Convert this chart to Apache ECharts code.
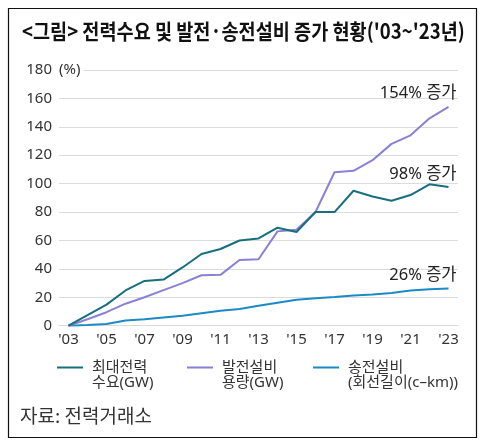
<!DOCTYPE html>
<html>
<head>
<meta charset="utf-8">
<script src="https://cdn.jsdelivr.net/npm/echarts@6/dist/echarts.min.js"></script>
<style>
html,body{margin:0;padding:0;background:#fff;}
#c{width:487px;height:445px;}
</style>
</head>
<body>
<div id="c"></div>
<script>
const years = ["'03","'04","'05","'06","'07","'08","'09","'10","'11","'12","'13","'14","'15","'16","'17","'18","'19","'20","'21","'22","'23"];
const peakDemand = [0, 7.5, 14.8, 24.8, 31.5, 32.5, 41, 50.5, 54, 60, 61.4, 69, 66, 80, 80, 95, 91, 88, 92, 99.5, 97.6];
const genCapacity = [0, 4.5, 9.5, 15.5, 20, 25, 30, 35.5, 35.8, 46.2, 46.8, 66.4, 67.5, 80, 108, 109, 116.5, 128, 134, 146, 154];
const transLines = [0, 0.5, 1.2, 3.6, 4.6, 5.8, 7, 8.8, 10.6, 11.8, 14, 16.2, 18.2, 19.3, 20.2, 21.2, 22, 23, 24.7, 25.6, 26.1];
const seriesNames = ['최대전력\n수요(GW)', '발전설비\n용량(GW)', '송전설비\n(회선길이(c–km))'];
const endNotes = ['98% 증가', '154% 증가', '26% 증가'];
const colors = ['#176f7d', '#8a80d6', '#1b8bc6'];
const titleText = "<그림> 전력수요 및 발전·송전설비 증가 현황('03~'23년)";
const sourceText = '자료: 전력거래소';

const FONT = '"Noto Sans", "Noto Sans CJK KR", sans-serif';
const chart = echarts.init(document.getElementById('c'));

function buildData(arr, note) {
  return arr.map((v, i) => i === arr.length - 1 ? {
    value: v,
    label: {
      show: true, formatter: note, position: 'top', distance: 5, align: 'right',
      offset: [8, 0], fontSize: 16.5, color: '#222', fontFamily: FONT
    }
  } : v);
}

const allData = [peakDemand, genCapacity, transLines];
const series = allData.map((arr, k) => ({
  name: seriesNames[k],
  type: 'line',
  data: buildData(arr, endNotes[k]),
  symbol: 'circle',
  symbolSize: 0,
  showSymbol: true,
  showAllSymbol: true,
  lineStyle: { width: 2, color: colors[k] },
  itemStyle: { color: colors[k] },
  emphasis: { disabled: true },
  z: 3 - k
}));

// legend icon: a 2px line near the top of a 30x30 box (aligned with first text line, wider gap to text)
const legendIcon = 'path://M0,0L0.01,0M0,6.5L26,6.5L26,8.5L0,8.5ZM30,30L30.01,30';
const legendLefts = [57, 187, 313];
const legends = seriesNames.map((n, k) => ({
  data: [{ name: n, icon: legendIcon }],
  left: legendLefts[k],
  top: 360,
  padding: 0,
  itemWidth: 30,
  itemHeight: 30,
  selectedMode: false,
  textStyle: { fontSize: 15, color: '#333', fontFamily: FONT, lineHeight: 15 }
}));

chart.setOption({
  animation: false,
  color: colors,
  grid: { left: 59, right: 29, top: 70, bottom: 119.3 },
  xAxis: {
    type: 'category',
    data: years,
    boundaryGap: true,
    axisLine: { show: true, lineStyle: { color: '#dcdcdc', width: 1 } },
    axisTick: { show: false },
    axisLabel: { interval: 1, color: '#333', fontSize: 15, fontFamily: FONT, margin: 7 }
  },
  yAxis: {
    type: 'value',
    min: 0, max: 180, interval: 20,
    name: '(%)',
    nameLocation: 'end',
    nameGap: 0,
    nameTextStyle: { align: 'left', verticalAlign: 'middle', color: '#333', fontSize: 15, fontFamily: FONT, backgroundColor: '#fff', padding: [0, 3, 0, 0] },
    axisLine: { show: false },
    axisTick: { show: false },
    splitLine: { lineStyle: { color: '#dcdcdc', width: 1 } },
    axisLabel: { color: '#333', fontSize: 15, fontFamily: FONT, margin: 7 }
  },
  legend: legends,
  series: series,
  graphic: [
    { type: 'rect', shape: { x: 8.5, y: 8.5, width: 468, height: 429 }, style: { fill: 'none', stroke: '#111', lineWidth: 1.2 }, silent: true },
    { type: 'text', x: 22, y: 31, scaleX: 0.885, style: { text: titleText, font: 'bold 21px "Noto Sans CJK KR", sans-serif', fill: '#111', textVerticalAlign: 'middle', textAlign: 'left' }, silent: true },
    { type: 'text', x: 20, y: 416, style: { text: sourceText, font: '19px "Noto Sans CJK KR", sans-serif', fill: '#333', textVerticalAlign: 'middle', textAlign: 'left' }, silent: true }
  ]
});
</script>
</body>
</html>
